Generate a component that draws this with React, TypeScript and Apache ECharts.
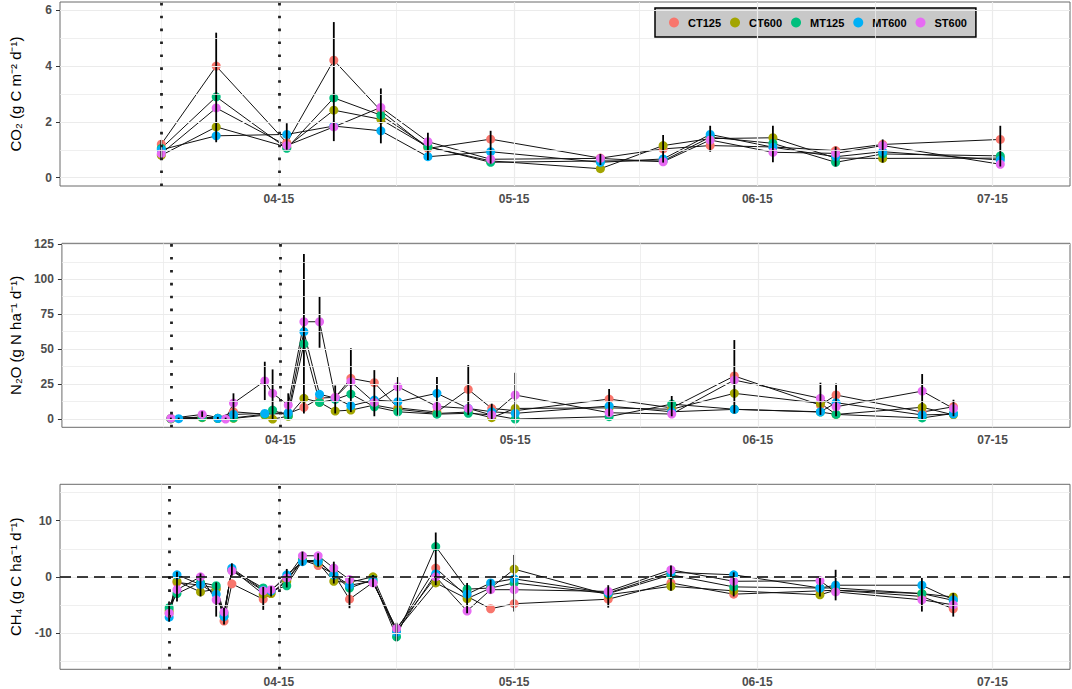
import React, { useEffect, useRef } from 'react';
import * as echarts from 'echarts';

const YEAR = 2021;
const DAY = 86400000;
const FONT = "'Liberation Sans', Arial, Helvetica, sans-serif";

const treatments = ['CT125', 'CT600', 'MT125', 'MT600', 'ST600'];
const colors = ['#F8766D', '#A3A500', '#00BF7D', '#00B0F6', '#E76BF3'];

const xTickDates = ['04-15', '05-15', '06-15', '07-15'];
const xMinorDates = ['03-31', '04-30', '05-31', '06-30'];

// ---- CO2 panel ----
const co2Dates = ['03-31', '04-07', '04-16', '04-22', '04-28', '05-04', '05-12', '05-26', '06-03', '06-09', '06-17', '06-25', '07-01', '07-16'];
const co2CT125 = [1.2, 4.0, 1.25, 4.21, 2.4, 1.05, 1.38, 0.7, 1.03, 1.15, 1.1, 0.97, 1.19, 1.37];
const co2CT600 = [0.8, 1.82, 1.1, 2.42, 2.09, 1.1, 0.6, 0.32, 1.15, 1.4, 1.43, 0.7, 0.69, 0.7];
const co2MT125 = [1.05, 2.9, 1.05, 2.86, 2.24, 1.11, 0.55, 0.6, 0.6, 1.45, 1.23, 0.55, 0.85, 0.78];
const co2MT600 = [1.0, 1.5, 1.55, 1.85, 1.68, 0.75, 0.93, 0.55, 0.67, 1.55, 1.09, 0.75, 0.93, 0.63];
const co2ST600 = [0.86, 2.5, 1.15, 1.82, 2.52, 1.29, 0.66, 0.69, 0.57, 1.35, 0.91, 0.87, 1.15, 0.48];
const co2ErrLo = [0.63, 1.27, 1.0, 1.31, 1.23, 0.63, 0.5, 0.45, 0.54, 0.93, 0.55, 0.4, 0.54, 0.4];
const co2ErrHi = [1.35, 5.2, 1.95, 5.58, 3.2, 1.61, 1.68, 0.85, 1.53, 1.86, 1.86, 1.11, 1.37, 1.86];
const co2Ticks = [0, 2, 4, 6];
const co2Minor = [1, 3, 5];
const co2Dotted = ['03-31', '04-15'];

// ---- N2O panel ----
const ghgDates = ['04-01', '04-02', '04-05', '04-07', '04-08', '04-09', '04-13', '04-14', '04-16', '04-18', '04-20', '04-22', '04-24', '04-27', '04-30', '05-05', '05-09', '05-12', '05-15', '05-27', '06-04', '06-12', '06-23', '06-25', '07-06', '07-10'];
const n2oCT125 = [0.3, null, 1.5, 0.6, null, 5.2, 3.5, null, 4.0, 8.4, 15.0, 15.5, 29.1, 26.0, 8.0, 5.0, 21.2, 7.6, 6.0, 14.3, 8.0, 30.8, 10.0, 17.2, 5.0, 8.8];
const n2oCT600 = [0.2, null, 1.0, 0.4, null, 0.5, 2.7, 0.0, 2.0, 14.8, 12.0, 5.7, 6.4, 10.0, 7.0, 4.0, 5.0, 1.0, 7.6, 8.0, 7.0, 18.4, 11.2, 3.3, 8.4, 3.0];
const n2oMT125 = [0.3, null, 1.2, 0.5, null, 0.8, 3.5, 6.4, 2.4, 53.7, 11.9, 14.0, 17.9, 8.8, 5.2, 3.5, 4.1, 3.0, 0.0, 1.7, 10.7, 7.0, 5.0, 3.3, 0.8, 4.0];
const n2oMT600 = [null, 0.3, null, 0.5, null, 3.3, 4.0, null, 4.5, 62.5, 17.7, 15.0, 9.5, 13.6, 12.4, 18.4, 7.6, 5.2, 4.1, 9.3, 5.2, 6.9, 5.2, 11.7, 2.9, 3.6];
const n2oST600 = [0.5, null, 3.3, null, 0.0, 11.4, 27.2, 18.4, 10.0, 69.6, 69.6, 15.5, 26.7, 11.9, 23.1, 9.0, 7.6, 2.9, 17.2, 4.5, 3.6, 27.9, 14.8, 8.8, 20.0, 7.5];
const n2oErrLo = [0, 0, 1.5, 0, 0, 0, 13.6, 0, 0, 4, 51, 4, 5, 2, 3, 1.6, 3, 0, 0, 2, 2, 4, 3, 2, 0, 2];
const n2oErrHi = [1, 1, 5.5, 1.5, 1, 18.4, 41, 35.5, 18.4, 118, 87.5, 24, 50.6, 35, 30, 30, 38.6, 11, 33.1, 21.5, 16.5, 56.5, 26, 25.5, 32.2, 13.8];
const n2oTicks = [0, 25, 50, 75, 100, 125];
const n2oMinor = [12.5, 37.5, 62.5, 87.5, 112.5];
const ghgDotted = ['04-01', '04-15'];

// ---- CH4 panel ----
const ch4CT125 = [-6.5, -1.0, -1.5, -2.0, -7.9, -1.25, -4.0, -3.0, -0.5, 3.0, 2.0, 0.5, -4.0, -1.0, -9.5, 1.55, -3.5, -5.7, -4.8, -4.0, -1.1, -3.1, -2.5, -2.4, -3.5, -5.7];
const ch4CT600 = [-6.0, -0.8, -2.7, -2.2, -7.0, 1.3, -3.1, -3.0, -0.8, 3.0, 2.5, -0.8, -1.0, 0.0, -9.6, -1.1, -3.9, -2.0, 1.37, -3.2, -1.7, -2.5, -3.2, -2.4, -3.0, -3.6];
const ch4MT125 = [-5.5, -3.0, -1.0, -1.6, -6.5, 1.2, -2.0, -2.5, -1.6, 2.9, 2.9, 0.3, -2.0, -0.5, -10.7, 5.4, -2.2, -2.0, -1.1, -3.0, 0.36, -1.8, -2.0, -2.0, -3.0, -4.2];
const ch4MT600 = [-7.2, 0.36, -1.4, -3.1, -7.1, 1.55, -2.4, -2.5, 0.36, 2.7, 2.7, 0.36, -1.5, -0.8, -9.9, 0.54, -3.1, -1.1, -0.36, -2.9, 0.8, 0.36, -2.0, -1.5, -1.5, -4.1];
const ch4ST600 = [-6.5, -2.3, 0.0, -4.1, -6.3, 1.07, -2.5, -2.3, -0.2, 3.75, 3.75, 1.55, -0.5, -1.1, -9.2, 0.0, -6.1, -2.3, -2.3, -2.6, 1.25, -0.8, -0.7, -2.7, -4.1, -5.0];
const ch4ErrLo = [-8, -4.4, -3.5, -7.1, -8.5, 0.2, -5.9, -3.5, -1.9, 2, 1.8, -1.2, -5.6, -1.8, -11.5, -1.5, -6.5, -3, -6.2, -5.5, -2.5, -3.5, -3.5, -4.2, -6.2, -7.1];
const ch4ErrHi = [-4.4, 0.9, 0.6, -1, -5.5, 2.4, -1.8, -1.7, 1.4, 4.5, 4.2, 2.7, 0, 0.3, -8.2, 7.9, -1.1, -0.5, 3.9, -1.5, 2.0, 0.8, 0, 1.25, -0.1, -2.9];
const ch4Ticks = [-10, 0, 10];
const ch4Minor = [-15, -5, 5, 15];

function t(md: string): number {
  const [m, d] = md.split('-').map(Number);
  return new Date(YEAR, m - 1, d).getTime();
}

function fmtDate(v: number): string {
  const d = new Date(Math.round(v));
  const mm = String(d.getMonth() + 1).padStart(2, '0');
  const dd = String(d.getDate()).padStart(2, '0');
  return `${mm}-${dd}`;
}

const xMin = t('03-18') + 0.08 * DAY;
const xMax = t('07-24') + 0.89 * DAY;

type Panel = {
  dates: string[];
  values: (number | null)[][];
  errLo: number[];
  errHi: number[];
  yMin: number;
  yMax: number;
  ticks: number[];
  minor: number[];
  dotted: string[];
  name: string;
  zeroLine: boolean;
  top: number;
  height: number;
};

const panels: Panel[] = [
  {
    dates: co2Dates,
    values: [co2CT125, co2CT600, co2MT125, co2MT600, co2ST600],
    errLo: co2ErrLo, errHi: co2ErrHi,
    yMin: -0.3, yMax: 6.3, ticks: co2Ticks, minor: co2Minor, dotted: co2Dotted,
    name: 'CO₂ (g C m⁻² d⁻¹)', zeroLine: false, top: 2, height: 184,
  },
  {
    dates: ghgDates,
    values: [n2oCT125, n2oCT600, n2oMT125, n2oMT600, n2oST600],
    errLo: n2oErrLo, errHi: n2oErrHi,
    yMin: -5.9, yMax: 125.7, ticks: n2oTicks, minor: n2oMinor, dotted: ghgDotted,
    name: 'N₂O (g N ha⁻¹ d⁻¹)', zeroLine: false, top: 243.3, height: 184,
  },
  {
    dates: ghgDates,
    values: [ch4CT125, ch4CT600, ch4MT125, ch4MT600, ch4ST600],
    errLo: ch4ErrLo, errHi: ch4ErrHi,
    yMin: -16.5, yMax: 16.5, ticks: ch4Ticks, minor: ch4Minor, dotted: ghgDotted,
    name: 'CH₄ (g C ha⁻¹ d⁻¹)', zeroLine: true, top: 484.3, height: 185,
  },
];

function buildOption() {
  const grid: any[] = [];
  const xAxis: any[] = [];
  const yAxis: any[] = [];
  const series: any[] = [];
  const xTickVals = xTickDates.map(t);

  panels.forEach((p, i) => {
    grid.push({
      left: 57.3, right: 2, top: p.top, height: p.height,
      show: true, backgroundColor: '#ffffff', borderColor: '#6b6b6b', borderWidth: 1,
    });
    xAxis.push({
      type: 'value', gridIndex: i, min: xMin, max: xMax,
      axisLine: { show: false },
      splitLine: { show: false },
      axisTick: { show: true, customValues: xTickVals, length: 4, lineStyle: { color: '#333333', width: 1 } },
      axisLabel: {
        show: true, customValues: xTickVals, formatter: (v: number) => fmtDate(v),
        fontFamily: FONT, fontWeight: 'bold', fontSize: 12, color: '#4D4D4D', margin: 7,
      },
    });
    yAxis.push({
      type: 'value', gridIndex: i, min: p.yMin, max: p.yMax,
      axisLine: { show: false },
      splitLine: { show: false },
      axisTick: { show: true, customValues: p.ticks, length: 4, lineStyle: { color: '#333333', width: 1 } },
      axisLabel: {
        show: true, customValues: p.ticks, formatter: (v: number) => String(v),
        fontFamily: FONT, fontWeight: 'bold', fontSize: 12, color: '#4D4D4D', margin: 8,
      },
      name: p.name, nameLocation: 'middle', nameGap: 37,
      nameTextStyle: { fontFamily: FONT, fontSize: 15, color: '#000000' },
    });

    const gridStyle = { color: '#EBEBEB', width: 1.2, type: 'solid' };
    const minorStyle = { color: '#EBEBEB', width: 0.8, type: 'solid' };
    const mlData: any[] = [];
    xMinorDates.forEach((d) => mlData.push({ xAxis: t(d), lineStyle: minorStyle }));
    p.minor.forEach((v) => mlData.push({ yAxis: v, lineStyle: minorStyle }));
    xTickDates.forEach((d) => mlData.push({ xAxis: t(d), lineStyle: gridStyle }));
    p.ticks.forEach((v) => mlData.push({ yAxis: v, lineStyle: gridStyle }));
    p.dotted.forEach((d) =>
      mlData.push({ xAxis: t(d), lineStyle: { color: '#222222', width: 2.8, type: [2.6, 10.3], cap: 'butt' } })
    );
    if (p.zeroLine) {
      mlData.push({ yAxis: 0, lineStyle: { color: '#000000', width: 1.7, type: [11, 6] } });
    }
    series.push({
      type: 'line', name: `grid-${i}`, xAxisIndex: i, yAxisIndex: i, data: [], silent: true, z: 1,
      markLine: {
        silent: true, symbol: ['none', 'none'], label: { show: false }, animation: false,
        emphasis: { disabled: true }, data: mlData,
      },
    });

    treatments.forEach((tr, k) => {
      const pts = p.dates
        .map((d, j) => [t(d), p.values[k][j]])
        .filter((pt) => pt[1] !== null && pt[1] !== undefined);
      series.push({
        type: 'line', name: `${tr}-line-${i}`, xAxisIndex: i, yAxisIndex: i, data: pts,
        showSymbol: false, symbol: 'none', silent: true, z: 2,
        lineStyle: { color: '#111111', width: 1 },
      });
    });
    treatments.forEach((tr, k) => {
      const pts = p.dates
        .map((d, j) => [t(d), p.values[k][j]])
        .filter((pt) => pt[1] !== null && pt[1] !== undefined);
      series.push({
        type: 'scatter', name: tr, xAxisIndex: i, yAxisIndex: i, data: pts,
        symbol: 'circle', symbolSize: 9, z: 3,
        itemStyle: { color: colors[k], opacity: 1 },
      });
    });
    series.push({
      type: 'custom', name: `err-${i}`, xAxisIndex: i, yAxisIndex: i, silent: true, z: 4,
      data: p.dates.map((d, j) => [t(d), p.errLo[j], p.errHi[j]]),
      encode: { x: 0, y: [1, 2] },
      renderItem: (params: any, api: any) => {
        const a = api.coord([api.value(0), api.value(1)]);
        const b = api.coord([api.value(0), api.value(2)]);
        return {
          type: 'line',
          shape: { x1: a[0], y1: a[1], x2: b[0], y2: b[1] },
          style: { stroke: '#000000', lineWidth: 1.8 },
        };
      },
    });
  });

  return {
    animation: false,
    backgroundColor: '#ffffff',
    textStyle: { fontFamily: FONT },
    grid, xAxis, yAxis, series,
    legend: {
      data: treatments, left: 655, top: 8, orient: 'horizontal',
      icon: 'circle', itemWidth: 18, itemHeight: 10, itemGap: 9, symbolKeepAspect: true,
      backgroundColor: '#C8C8C8', borderColor: '#000000', borderWidth: 1.5, borderRadius: 0,
      padding: [9, 9, 9, 14], selectedMode: false,
      textStyle: { fontFamily: FONT, fontSize: 11, fontWeight: 'bold', color: '#000000' },
    },
  };
}

export default function App() {
  const ref = useRef<HTMLDivElement>(null);
  useEffect(() => {
    document.body.style.margin = '0';
    if (!ref.current) return;
    const chart = echarts.init(ref.current, undefined, { renderer: 'svg' });
    chart.setOption(buildOption() as any);
    return () => chart.dispose();
  }, []);
  return <div ref={ref} style={{ width: 1072, height: 689 }} />;
}
